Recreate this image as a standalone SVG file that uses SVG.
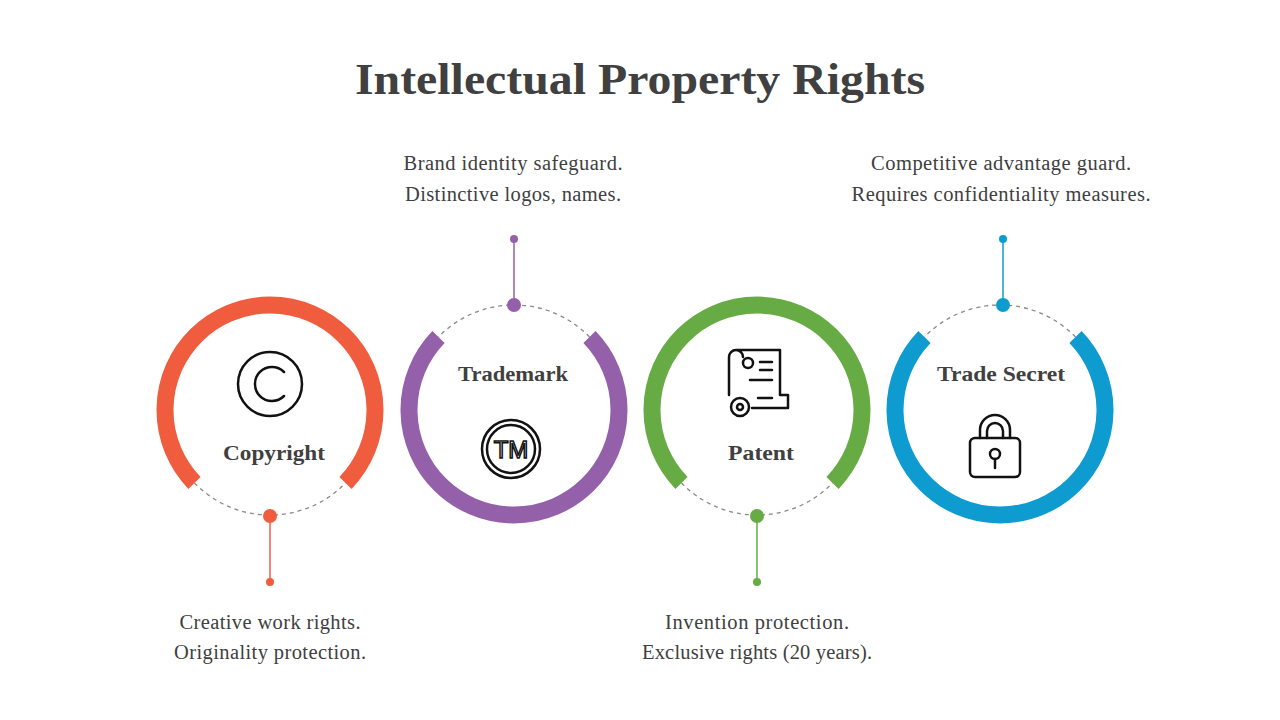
<svg xmlns="http://www.w3.org/2000/svg" width="1280" height="720" viewBox="0 0 1280 720">
<style>
.t{font-family:"Liberation Serif","DejaVu Serif",serif;fill:#404040}
.h{font-size:45px;font-weight:bold}
.l{font-size:22px;font-weight:bold}
.d{font-size:20.5px}
.ring{fill:none;stroke-width:17}
.gap{fill:none;stroke:#888;stroke-width:1.3;stroke-dasharray:4 4}
.ic{fill:none;stroke:#111;stroke-width:2.5;stroke-linecap:round;stroke-linejoin:round}
</style>
<rect width="1280" height="720" fill="#fff"/>
<text class="t h" x="640" y="94" text-anchor="middle" textLength="570" lengthAdjust="spacingAndGlyphs">Intellectual Property Rights</text>
<g id="copyright">
<path class="ring" stroke="#F05D3E" d="M345.5,483 A105,105 0 1 0 194.5,483"/>
<path class="gap" d="M194.5,483 A105,105 0 0 0 345.5,483"/>
<circle cx="270" cy="384" r="32" class="ic" stroke-width="3"/>
<path class="ic" stroke-width="3" d="M284,372 A17,17 0 1 0 284,396"/>
<text class="t l" x="274" y="460" text-anchor="middle" textLength="102" lengthAdjust="spacingAndGlyphs">Copyright</text>
</g>
<g id="trademark">
<path class="ring" stroke="#9560AA" d="M438.5,337 A105,105 0 1 0 589.5,337"/>
<path class="gap" d="M589.5,337 A105,105 0 0 0 438.5,337"/>
<circle cx="511" cy="449" r="29" class="ic" stroke-width="2"/>
<circle cx="511" cy="449" r="24" class="ic" stroke-width="2"/>
<text x="511" y="458" text-anchor="middle" font-family="Liberation Sans,sans-serif" font-size="24" fill="#fff" stroke="#111" stroke-width="1.5">TM</text>
<text class="t l" x="513" y="381" text-anchor="middle" textLength="110" lengthAdjust="spacingAndGlyphs">Trademark</text>
</g>
<g id="patent">
<path class="ring" stroke="#67AB44" d="M832.5,483 A105,105 0 1 0 681.5,483"/>
<path class="gap" d="M681.5,483 A105,105 0 0 0 832.5,483"/>
<path class="ic" stroke-width="2" d="M736,350 H780 V395 H788 V408 H752 M736,350 A7,7 0 0 0 729,357 V395 M736,350 A7,7 0 0 1 743,357 M760,362 H772 M760,370 H772 M750,380 H772 M758,398 H772"/>
<circle cx="748" cy="363" r="5" class="ic" stroke-width="2"/>
<circle cx="740" cy="407" r="9" class="ic" stroke-width="2"/>
<circle cx="740" cy="407" r="3" class="ic" stroke-width="2"/>
<text class="t l" x="761" y="460" text-anchor="middle" textLength="66" lengthAdjust="spacingAndGlyphs">Patent</text>
</g>
<g id="tradesecret">
<path class="ring" stroke="#0E9BD0" d="M924.5,337 A105,105 0 1 0 1075.5,337"/>
<path class="gap" d="M1075.5,337 A105,105 0 0 0 924.5,337"/>
<path class="ic" d="M980,438 V430 A15,15 0 0 1 1010,430 V438"/>
<path class="ic" d="M987,438 V431 A8,8 0 0 1 1003,431 V438"/>
<rect x="970" y="438" width="50" height="39" rx="5" class="ic"/>
<circle cx="995" cy="454" r="5" class="ic" stroke-width="2"/>
<path class="ic" stroke-width="2" d="M995,459 V468"/>
<text class="t l" x="1001" y="381" text-anchor="middle" textLength="128" lengthAdjust="spacingAndGlyphs">Trade Secret</text>
</g>
<g id="connectors">
<line x1="270" y1="516" x2="270" y2="582" stroke="#F05D3E" stroke-width="1.5"/>
<circle cx="270" cy="516" r="7" fill="#F05D3E"/><circle cx="270" cy="582" r="4" fill="#F05D3E"/>
<line x1="514" y1="305" x2="514" y2="239" stroke="#9560AA" stroke-width="1.5"/>
<circle cx="514" cy="305" r="7" fill="#9560AA"/><circle cx="514" cy="239" r="4" fill="#9560AA"/>
<line x1="757" y1="516" x2="757" y2="582" stroke="#67AB44" stroke-width="1.5"/>
<circle cx="757" cy="516" r="7" fill="#67AB44"/><circle cx="757" cy="582" r="4" fill="#67AB44"/>
<line x1="1003" y1="305" x2="1003" y2="239" stroke="#0E9BD0" stroke-width="1.5"/>
<circle cx="1003" cy="305" r="7" fill="#0E9BD0"/><circle cx="1003" cy="239" r="4" fill="#0E9BD0"/>
</g>
<g class="t d" text-anchor="middle" lengthAdjust="spacingAndGlyphs">
<text x="513" y="170" textLength="219">Brand identity safeguard.</text>
<text x="513" y="201" textLength="216">Distinctive logos, names.</text>
<text x="1001" y="170" textLength="260">Competitive advantage guard.</text>
<text x="1001" y="201" textLength="299">Requires confidentiality measures.</text>
<text x="270" y="629" textLength="181">Creative work rights.</text>
<text x="270" y="659" textLength="192">Originality protection.</text>
<text x="757" y="629" textLength="184">Invention protection.</text>
<text x="757" y="659" textLength="230">Exclusive rights (20 years).</text>
</g>
</svg>
